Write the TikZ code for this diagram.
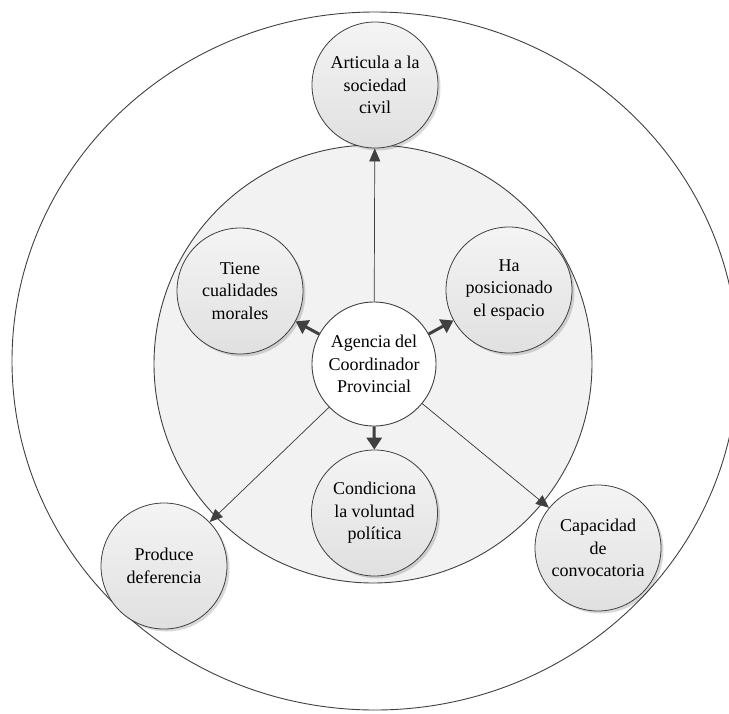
\documentclass[tikz,border=0pt]{standalone}
\usepackage{fontspec}
\setmainfont{Liberation Serif}
\usetikzlibrary{arrows.meta,shadows}
\definecolor{edge}{HTML}{404040}
\definecolor{ringfill}{HTML}{F2F2F2}
\definecolor{bubtop}{HTML}{F4F4F4}
\definecolor{bubbot}{HTML}{E0E0E0}
\begin{document}
\begin{tikzpicture}[x=1pt,y=-1pt,
  txt/.style={align=center, font=\fontsize{18}{22.5}\selectfont},
  bubble/.style={circle, draw=edge, line width=0.8pt, minimum size=126pt, inner sep=0pt, txt,
    top color=bubtop, bottom color=bubbot,
    drop shadow={shadow xshift=2.5pt, shadow yshift=-2.5pt, fill=black, opacity=0.15}},
  thinarrow/.style={draw=edge, line width=0.7pt, -{Triangle[length=13pt,width=11pt]}, fill=edge},
  thickarrow/.style={draw=edge, line width=3pt, -{Triangle[length=12pt,width=15pt]}, fill=edge}]
\useasboundingbox (0,0) rectangle (729,713);
\clip (0,0) rectangle (729,713);

% outer field
\draw[edge, line width=0.9pt] (375,361) ellipse [x radius=363pt, y radius=349pt];

% inner ring
\node[circle, draw=edge, line width=0.9pt, fill=ringfill, minimum size=438pt, inner sep=0pt] (ring) at (373,364) {};

% centre
\node[circle, draw=edge, line width=0.9pt, fill=white, minimum size=124pt, inner sep=0pt, txt] (agencia) at (374,364)
  {Agencia del\\Coordinador\\Provincial};

% satellites
\node[bubble] (articula) at (375,85) {Articula a la\\sociedad\\civil};
\node[bubble] (tiene) at (240,291) {Tiene\\cualidades\\morales};
\node[bubble] (ha) at (509,290) {Ha\\posicionado\\el espacio};
\node[bubble] (condiciona) at (374.5,513) {Condiciona\\la voluntad\\política};
\node[bubble] (produce) at (164,566) {Produce\\deferencia};
\node[bubble] (capacidad) at (598,548) {Capacidad\\de\\convocatoria};

% connectors
\draw[thinarrow] (agencia) -- (articula);
\draw[thinarrow] (agencia) -- (produce);
\draw[thinarrow] (agencia) -- (capacidad);
\draw[thickarrow] (agencia) -- (tiene);
\draw[thickarrow] (agencia) -- (ha);
\draw[thickarrow] (agencia) -- (condiciona);
\end{tikzpicture}
\end{document}
